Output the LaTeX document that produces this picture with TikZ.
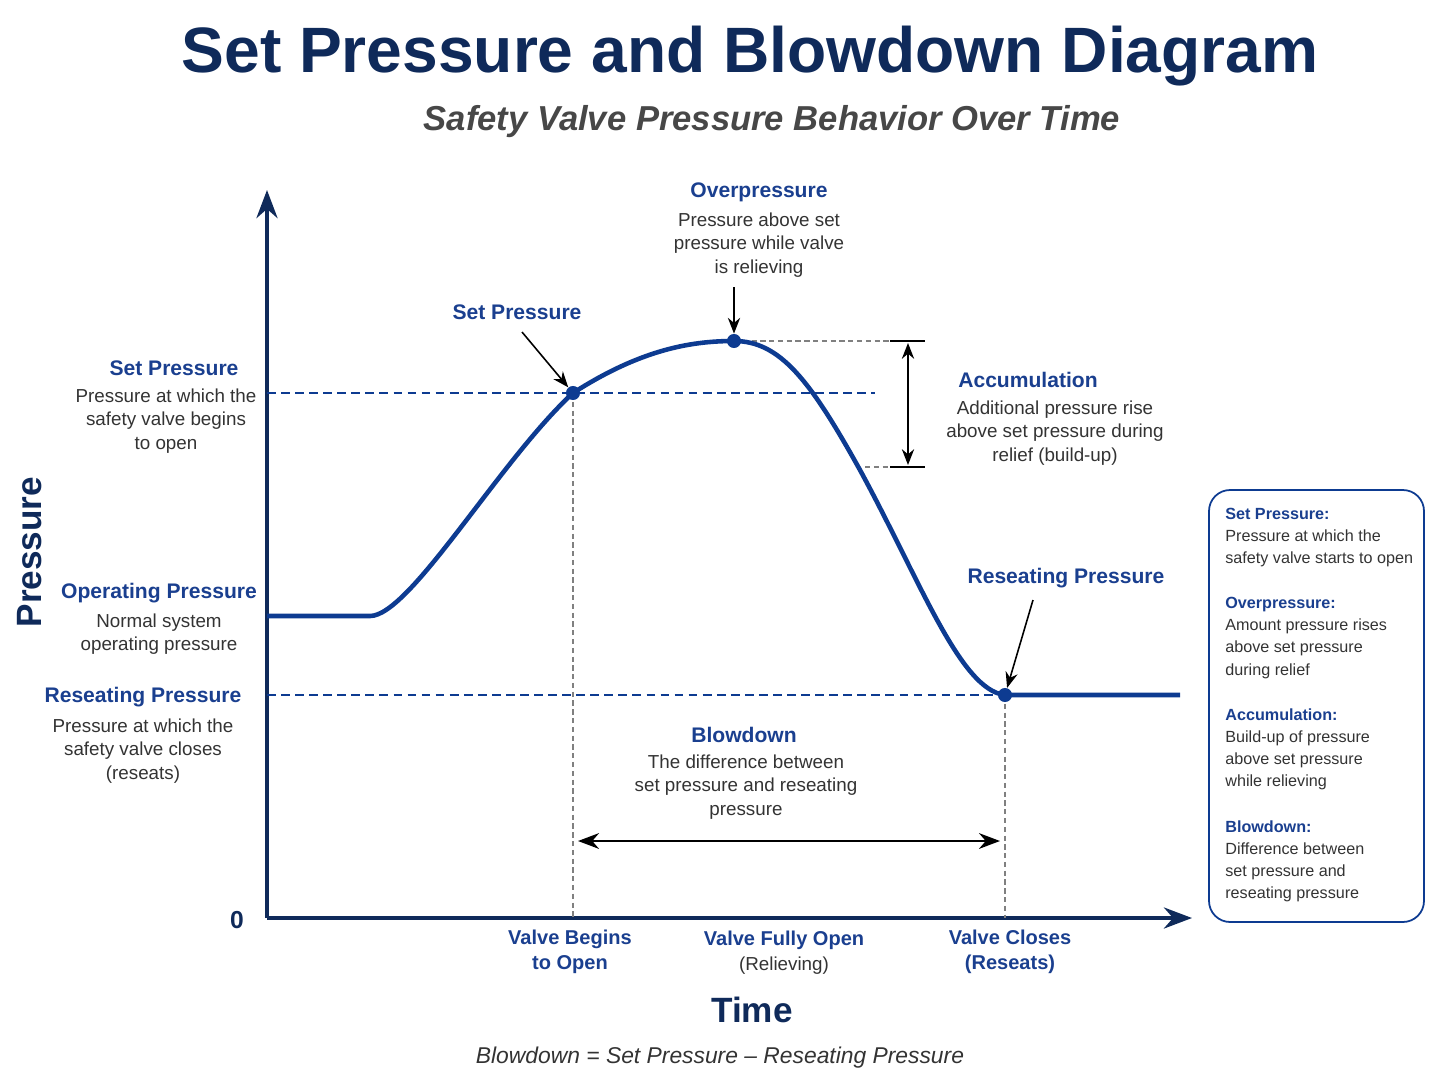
\documentclass[tikz,border=0pt]{standalone}
\usepackage{fontspec}
\setmainfont{Liberation Sans}
\usetikzlibrary{arrows.meta}
\definecolor{navy}{HTML}{0F2A5A}
\definecolor{cblue}{HTML}{0D3B91}
\definecolor{lblue}{HTML}{1A3F8F}
\definecolor{gtext}{HTML}{333333}
\begin{document}
\begin{tikzpicture}[x=0.02cm,y=-0.02cm,
 lab/.style={text=lblue,font=\fontsize{12}{14}\selectfont\bfseries,inner sep=0},
 body/.style={text=gtext,font=\fontsize{10.7}{13.5}\selectfont,align=center,inner sep=0},
 sl/.style={text=lblue,font=\fontsize{11.4}{14.5}\selectfont\bfseries,align=center,inner sep=0},
 blued/.style={cblue,dashed,line width=0.9pt,dash pattern=on 5pt off 3pt},
 greyd/.style={gray,dashed,line width=0.6pt,dash pattern=on 3pt off 2pt},
 pt/.style={circle,fill=cblue,inner sep=0,minimum size=8pt},
 arr/.style={-{Stealth[length=9pt,width=7pt]},line width=0.9pt,black},
 sb/.style={text=gtext,font=\fontsize{9.2}{12.6}\selectfont,align=left,anchor=north west,inner sep=0}]
\useasboundingbox (0,0) rectangle (1448,1086);
\node[text=navy,font=\fontsize{36.5}{40}\selectfont\bfseries] (title) at (750,56) {Set Pressure and Blowdown Diagram};
\node[text=gtext!90,font=\fontsize{19.7}{22}\selectfont\bfseries\itshape] (sub) at (772,122) {Safety Valve Pressure Behavior Over Time};
% axes
\coordinate (o) at (267,918); \coordinate (yt) at (267,190); \coordinate (xt) at (1192,918);
\draw[navy,line width=2.2pt,-{Stealth[length=16pt,width=12pt]}] (o) -- (yt);
\draw[navy,line width=2.2pt,-{Stealth[length=16pt,width=12pt]}] (o) -- (xt);
\node[text=navy,font=\fontsize{14}{16}\selectfont\bfseries] (zero) at (237,920) {0};
\node[text=navy,font=\fontsize{20}{24}\selectfont\bfseries,rotate=90] (plab) at (30,552) {Pressure};
\node[text=navy,font=\fontsize{20}{24}\selectfont\bfseries] (tlab) at (752,1010) {Time};
% dashed
\draw[blued] (267,393) -- (875,393);
\draw[blued] (267,695) -- (1005,695);
\draw[greyd] (573,393) -- (573,918);
\draw[greyd] (1005,695) -- (1005,918);
\draw[greyd] (734,341) -- (925,341);
\draw[greyd] (865,467) -- (925,467);
% curve
\coordinate (sp) at (573,393); \coordinate (pk) at (734,341); \coordinate (rs) at (1005,695);
\draw[cblue,line width=2.6pt] (267,616) -- (370,616)
 .. controls (410,616) and (500,460) .. (sp)
 .. controls (640,350) and (690,341) .. (pk)
 .. controls (780,341) and (810,380) .. (860,470)
 .. controls (920,580) and (960,690) .. (rs) -- (1180,695);
\node[pt] (p1) at (sp) {}; \node[pt] (p2) at (pk) {}; \node[pt] (p3) at (rs) {};
% accumulation arrow
\coordinate (a1) at (908,343); \coordinate (a2) at (908,465);
\draw[arr,{Stealth[length=9pt,width=7pt]}-{Stealth[length=9pt,width=7pt]}] (a1) -- (a2);
\draw[line width=0.8pt] (890,341) -- (925,341) (890,467) -- (925,467);
% blowdown arrow
\coordinate (b1) at (578,841); \coordinate (b2) at (1000,841);
\draw[arr,{Stealth[length=12pt,width=9pt]}-{Stealth[length=12pt,width=9pt]}] (b1) -- (b2);
% label arrows
\coordinate (sa) at (522,332); \coordinate (oa) at (734,287); \coordinate (ra) at (1033,600);
\draw[arr] (sa) -- (p1); \draw[arr] (oa) -- (p2); \draw[arr] (ra) -- (p3);
% top labels
\node[lab] (ovl) at (759,192) {Overpressure};
\node[body] (ovb) at (759,245) {Pressure above set\\pressure while valve\\is relieving};
\node[lab] (spl) at (517,312) {Set Pressure};
\node[lab] (acl) at (1028,380) {Accumulation};
\node[body] (acb) at (1055,433) {Additional pressure rise\\above set pressure during\\relief (build-up)};
\node[lab] (rpl) at (1066,578) {Reseating Pressure};
\node[lab] (bdl) at (744,735) {Blowdown};
\node[body] (bdb) at (746,787) {The difference between\\set pressure and reseating\\pressure};
% left labels
\node[lab] (lsp) at (174,368) {Set Pressure};
\node[body] (lspb) at (166,421) {Pressure at which the\\safety valve begins\\to open};
\node[lab] (lop) at (159,593) {Operating Pressure};
\node[body] (lopb) at (159,634) {Normal system\\operating pressure};
\node[lab] (lrp) at (143,697) {Reseating Pressure};
\node[body] (lrpb) at (143,751) {Pressure at which the\\safety valve closes\\(reseats)};
% x labels
\node[sl] (x1) at (570,952) {Valve Begins\\to Open};
\node[sl] (x2) at (784,940) {Valve Fully Open};
\node[body] (x2b) at (784,966) {(Relieving)};
\node[sl] (x3) at (1010,952) {Valve Closes\\(Reseats)};
\node[text=gtext,font=\fontsize{13}{15}\selectfont\itshape] (form) at (720,1058) {Blowdown = Set Pressure – Reseating Pressure};
% side box
\draw[cblue,line width=1pt,rounded corners=12pt] (1209,490) rectangle (1424,922);
\node[sb] (s1) at (1225,508) {\textcolor{lblue}{\bfseries Set Pressure:}\\Pressure at which the\\safety valve starts to open};
\node[sb] (s2) at (1225,597) {\textcolor{lblue}{\bfseries Overpressure:}\\Amount pressure rises\\above set pressure\\during relief};
\node[sb] (s3) at (1225,708) {\textcolor{lblue}{\bfseries Accumulation:}\\Build-up of pressure\\above set pressure\\while relieving};
\node[sb] (s4) at (1225,820) {\textcolor{lblue}{\bfseries Blowdown:}\\Difference between\\set pressure and\\reseating pressure};
\end{tikzpicture}
\end{document}
